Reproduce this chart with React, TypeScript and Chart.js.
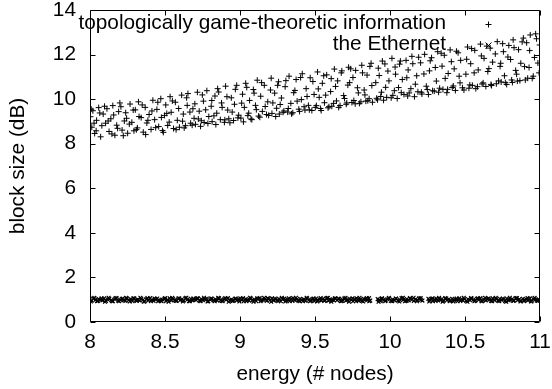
import React, { useEffect, useRef } from 'react';
import { Chart, registerables } from 'chart.js';

Chart.register(...registerables);

const seriesNames = ['topologically game-theoretic information', 'the Ethernet'];
const xTitle = 'energy (# nodes)';
const yTitle = 'block size (dB)';
const xTicks = [8, 8.5, 9, 9.5, 10, 10.5, 11];
const yTicks = [0, 2, 4, 6, 8, 10, 12, 14];

const upperX = [
  8.003, 8.012, 8.019, 8.031, 8.044, 8.058, 8.071, 8.088,
  8.104, 8.113, 8.127, 8.139, 8.152, 8.166, 8.178, 8.191,
  8.206, 8.214, 8.229, 8.238, 8.251, 8.267, 8.279, 8.293,
  8.302, 8.316, 8.323, 8.341, 8.355, 8.368, 8.379, 8.394,
  8.407, 8.419, 8.431, 8.446, 8.458, 8.472, 8.483, 8.497,
  8.505, 8.518, 8.534, 8.541, 8.557, 8.569, 8.582, 8.596,
  8.611, 8.622, 8.637, 8.648, 8.653, 8.671, 8.686, 8.694,
  8.703, 8.716, 8.728, 8.742, 8.756, 8.761, 8.779, 8.792,
  8.808, 8.814, 8.833, 8.845, 8.851, 8.869, 8.877, 8.896,
  8.904, 8.918, 8.925, 8.942, 8.957, 8.963, 8.978, 8.991,
  9.006, 9.017, 9.029, 9.038, 9.052, 9.064, 9.073, 9.089,
  9.103, 9.115, 9.124, 9.138, 9.149, 9.162, 9.177, 9.185,
  9.208, 9.213, 9.231, 9.244, 9.257, 9.262, 9.276, 9.293,
  9.301, 9.318, 9.327, 9.339, 9.352, 9.366, 9.374, 9.392,
  9.409, 9.415, 9.433, 9.441, 9.456, 9.468, 9.479, 9.494,
  9.502, 9.517, 9.528, 9.536, 9.549, 9.563, 9.578, 9.587,
  9.604, 9.612, 9.629, 9.643, 9.651, 9.667, 9.675, 9.691,
  9.708, 9.719, 9.724, 9.746, 9.753, 9.768, 9.771, 9.789,
  9.806, 9.812, 9.828, 9.839, 9.847, 9.861, 9.874, 9.883,
  9.905, 9.917, 9.922, 9.938, 9.949, 9.957, 9.971, 9.986,
  10.008, 10.013, 10.029, 10.037, 10.048, 10.064, 10.075, 10.082,
  10.107, 10.118, 10.121, 10.139, 10.146, 10.163, 10.178, 10.186,
  10.204, 10.213, 10.231, 10.242, 10.256, 10.263, 10.277, 10.295,
  10.309, 10.318, 10.324, 10.347, 10.353, 10.362, 10.379, 10.388,
  10.401, 10.415, 10.428, 10.436, 10.454, 10.467, 10.471, 10.493,
  10.506, 10.517, 10.526, 10.538, 10.549, 10.565, 10.572, 10.588,
  10.603, 10.614, 10.627, 10.639, 10.652, 10.668, 10.677, 10.684,
  10.709, 10.715, 10.734, 10.741, 10.756, 10.763, 10.778, 10.792,
  10.804, 10.816, 10.821, 10.838, 10.849, 10.857, 10.872, 10.889,
  10.902, 10.911, 10.927, 10.935, 10.948, 10.963, 10.977, 10.994,
];

const upperY = [
  9.21, 8.74, 9.48, 8.46, 9.05, 9.62, 8.31, 9.33,
  8.92, 9.57, 8.55, 9.12, 9.71, 8.38, 8.83, 9.44,
  9.66, 8.61, 9.02, 9.39, 8.47, 9.78, 8.96, 8.58,
  9.52, 8.71, 9.88, 9.17, 8.52, 9.63, 8.93, 9.31,
  8.64, 9.95, 9.08, 9.54, 8.77, 10.02, 8.59, 9.27,
  9.74, 8.82, 10.11, 9.41, 8.68, 9.86, 9.05, 8.74,
  10.18, 9.33, 8.81, 9.72, 10.25, 8.92, 9.57, 9.14,
  8.87, 10.31, 9.46, 9.03, 9.91, 8.95, 10.38, 9.22,
  9.68, 8.99, 10.14, 9.37, 10.47, 9.08, 9.83, 8.96,
  10.58, 9.51, 9.12, 10.06, 9.04, 9.77, 10.62, 9.28,
  9.15, 10.22, 9.63, 10.71, 9.26, 9.94, 9.11, 10.43,
  9.72, 10.85, 9.24, 10.13, 9.45, 10.62, 9.31, 9.88,
  10.94, 9.36, 10.27, 9.59, 10.78, 9.33, 10.05, 9.47,
  10.56, 9.42, 11.03, 9.81, 9.39, 10.39, 10.88, 9.55,
  9.98, 11.14, 9.51, 10.47, 9.72, 10.96, 9.49, 10.21,
  9.63, 11.22, 10.08, 9.58, 10.71, 9.84, 11.09, 9.61,
  10.34, 9.68, 11.35, 9.92, 10.82, 9.71, 11.18, 10.16,
  9.77, 10.63, 11.43, 9.85, 10.97, 9.79, 11.29, 10.28,
  9.88, 11.52, 10.41, 9.91, 11.08, 10.02, 11.61, 9.86,
  10.74, 9.97, 11.39, 10.12, 11.71, 9.95, 10.53, 11.26,
  10.06, 11.83, 10.38, 11.12, 10.03, 11.57, 10.29, 10.88,
  11.74, 10.14, 11.31, 10.47, 11.92, 10.11, 11.05, 10.33,
  11.63, 10.23, 12.01, 10.58, 10.21, 11.27, 11.86, 10.36,
  10.81, 12.13, 10.31, 11.48, 10.44, 11.97, 10.29, 11.15,
  12.21, 10.52, 11.36, 10.39, 12.08, 10.73, 11.74, 10.41,
  11.12, 12.34, 10.49, 11.59, 10.62, 12.19, 10.47, 11.31,
  12.47, 10.68, 11.83, 10.57, 11.24, 12.29, 10.61, 11.66,
  10.69, 12.58, 11.47, 10.77, 12.13, 11.05, 10.66, 12.41,
  11.78, 10.75, 12.66, 11.29, 10.81, 12.22, 11.61, 12.74,
  10.86, 12.53, 11.42, 12.88, 10.93, 11.87, 12.71, 11.18,
];

const upperXb = [
  8.008, 8.027, 8.041, 8.065, 8.079, 8.097, 8.121, 8.146, 8.158, 8.184,
  8.199, 8.222, 8.244, 8.262, 8.288, 8.309, 8.327, 8.348, 8.371, 8.386,
  8.413, 8.438, 8.452, 8.476, 8.489, 8.512, 8.528, 8.549, 8.574, 8.591,
  8.617, 8.628, 8.644, 8.666, 8.681, 8.699, 8.722, 8.737, 8.749, 8.771,
  8.786, 8.812, 8.826, 8.839, 8.858, 8.881, 8.899, 8.913, 8.933, 8.948,
  8.969, 8.986, 9.011, 9.023, 9.045, 9.058, 9.079, 9.094, 9.109, 9.132,
  9.144, 9.168, 9.191, 9.203, 9.219, 9.238, 9.251, 9.268, 9.287, 9.306,
  9.322, 9.344, 9.358, 9.381, 9.397, 9.404, 9.427, 9.447, 9.462, 9.486,
  9.509, 9.522, 9.541, 9.558, 9.571, 9.593, 9.608, 9.624, 9.637, 9.658,
  9.679, 9.697, 9.712, 9.731, 9.738, 9.759, 9.783, 9.796, 9.817, 9.833,
  9.852, 9.866, 9.879, 9.911, 9.928, 9.943, 9.966, 9.978, 9.993, 10.019,
  10.034, 10.057, 10.069, 10.093, 10.112, 10.128, 10.152, 10.169, 10.191, 10.209,
  10.226, 10.249, 10.268, 10.284, 10.302, 10.331, 10.341, 10.368, 10.384, 10.409,
  10.422, 10.443, 10.461, 10.483, 10.511, 10.532, 10.544, 10.561, 10.583, 10.609,
  10.621, 10.645, 10.659, 10.673, 10.702, 10.724, 10.738, 10.751, 10.769, 10.786,
  10.811, 10.827, 10.844, 10.866, 10.881, 10.897, 10.918, 10.931, 10.955, 10.971,
  10.986, 10.998,
];

const upperYb = [
  9.55, 8.92, 8.58, 9.38, 8.81, 9.68, 9.02, 8.44, 9.29, 8.69,
  9.83, 8.36, 9.14, 8.88, 9.51, 8.63, 9.22, 9.74, 8.41, 9.05,
  9.47, 8.72, 9.86, 9.18, 8.51, 9.36, 8.97, 9.92, 8.63, 9.58,
  9.01, 8.71, 10.06, 9.42, 8.83, 9.79, 9.11, 8.78, 10.19, 9.52,
  8.91, 9.94, 9.25, 8.86, 10.32, 9.63, 9.07, 10.11, 8.94, 9.42,
  10.44, 9.16, 9.82, 8.98, 10.53, 9.37, 9.08, 10.27, 9.53, 9.19,
  10.74, 9.67, 9.27, 10.41, 9.83, 9.22, 10.62, 9.76, 9.41, 10.83,
  9.58, 9.34, 10.29, 9.91, 9.45, 10.97, 9.66, 10.12, 9.52, 10.79,
  9.71, 10.46, 9.49, 11.05, 10.18, 9.66, 10.92, 9.81, 10.57, 9.63,
  11.27, 10.03, 9.83, 10.74, 11.36, 9.94, 10.51, 9.81, 11.18, 10.19,
  9.93, 11.47, 10.61, 10.04, 11.06, 10.31, 11.58, 10.08, 10.82, 10.17,
  11.44, 10.52, 11.71, 10.21, 10.96, 10.28, 11.59, 10.67, 11.88, 10.31,
  11.13, 10.43, 11.72, 10.38, 11.42, 10.49, 12.06, 10.93, 10.44, 11.68,
  10.59, 12.15, 11.03, 10.51, 11.79, 10.64, 12.27, 11.18, 10.56, 11.94,
  10.73, 12.38, 11.37, 10.66, 12.03, 10.82, 11.61, 12.49, 10.74, 11.89,
  10.86, 12.31, 11.12, 10.83, 12.57, 11.46, 10.94, 12.18, 11.03, 12.93,
  11.62, 12.43,
];

const lowerX = [
  8.0, 8.011, 8.023, 8.036, 8.047, 8.058, 8.071, 8.083, 8.094, 8.106,
  8.118, 8.129, 8.142, 8.153, 8.165, 8.177, 8.188, 8.201, 8.212, 8.224,
  8.236, 8.247, 8.259, 8.272, 8.283, 8.295, 8.306, 8.318, 8.331, 8.342,
  8.354, 8.365, 8.377, 8.389, 8.401, 8.412, 8.424, 8.437, 8.448, 8.459,
  8.471, 8.483, 8.496, 8.507, 8.518, 8.531, 8.542, 8.554, 8.566, 8.577,
  8.589, 8.602, 8.613, 8.624, 8.637, 8.648, 8.66, 8.672, 8.683, 8.695,
  8.707, 8.719, 8.731, 8.742, 8.754, 8.766, 8.778, 8.789, 8.802, 8.813,
  8.825, 8.836, 8.849, 8.861, 8.872, 8.884, 8.896, 8.907, 8.919, 8.932,
  8.943, 8.955, 8.967, 8.978, 8.99, 9.002, 9.013, 9.025, 9.038, 9.049,
  9.061, 9.072, 9.084, 9.096, 9.108, 9.119, 9.131, 9.143, 9.155, 9.166,
  9.178, 9.19, 9.201, 9.214, 9.225, 9.237, 9.249, 9.26, 9.272, 9.284,
  9.296, 9.307, 9.319, 9.331, 9.343, 9.354, 9.366, 9.378, 9.39, 9.401,
  9.413, 9.425, 9.437, 9.448, 9.46, 9.472, 9.484, 9.495, 9.507, 9.519,
  9.531, 9.542, 9.554, 9.566, 9.578, 9.589, 9.601, 9.613, 9.625, 9.636,
  9.648, 9.66, 9.672, 9.683, 9.695, 9.707, 9.719, 9.73, 9.742, 9.754,
  9.766, 9.777, 9.789, 9.801, 9.813, 9.824, 9.836, 9.848, 9.86, 9.868,
  9.918, 9.927, 9.938, 9.948, 9.959, 9.971, 9.983, 9.994, 10.006, 10.018,
  10.03, 10.041, 10.053, 10.065, 10.077, 10.088, 10.1, 10.112, 10.124, 10.135,
  10.147, 10.159, 10.171, 10.182, 10.194, 10.206, 10.216, 10.256, 10.265, 10.276,
  10.286, 10.298, 10.309, 10.321, 10.333, 10.345, 10.356, 10.368, 10.38, 10.392,
  10.403, 10.415, 10.427, 10.439, 10.45, 10.462, 10.474, 10.486, 10.497, 10.509,
  10.521, 10.533, 10.544, 10.556, 10.568, 10.58, 10.591, 10.603, 10.615, 10.627,
  10.638, 10.65, 10.662, 10.674, 10.685, 10.697, 10.709, 10.721, 10.732, 10.744,
  10.756, 10.768, 10.779, 10.791, 10.803, 10.815, 10.826, 10.838, 10.85, 10.862,
  10.873, 10.885, 10.897, 10.909, 10.92, 10.932, 10.944, 10.956, 10.967, 10.979, 10.991,
];

const lowerY = [
  1.02, 0.96, 1.05, 0.99, 0.94, 1.03, 1.0, 0.97, 1.06, 0.95,
  1.01, 1.04, 0.98, 0.93, 1.02, 1.07, 0.96, 1.0, 1.03, 0.97,
  0.95, 1.05, 0.99, 1.02, 0.94, 1.06, 0.98, 1.01, 0.96, 1.04,
  1.0, 0.93, 1.03, 0.97, 1.07, 0.99, 0.95, 1.02, 1.05, 0.98,
  0.96, 1.01, 1.04, 0.94, 1.0, 1.06, 0.97, 1.03, 0.99, 0.95,
  1.05, 0.98, 1.02, 0.96, 1.07, 1.0, 0.94, 1.04, 0.97, 1.01,
  0.99, 1.06, 0.95, 1.03, 0.98, 1.01, 1.05, 0.93, 1.0, 1.04,
  0.97, 1.02, 0.96, 1.06, 0.99, 0.94, 1.03, 1.0, 1.07, 0.98,
  1.01, 0.95, 1.04, 0.97, 1.02, 1.06, 0.99, 0.93, 1.03, 1.0,
  0.96, 1.05, 0.98, 1.01, 0.94, 1.04, 1.07, 0.97, 1.0, 1.02,
  0.95, 1.03, 0.99, 1.06, 0.96, 1.01, 0.98, 1.04, 0.93, 1.02,
  1.05, 0.97, 1.0, 0.94, 1.03, 1.07, 0.98, 1.01, 0.96, 1.04,
  0.99, 1.02, 0.95, 1.06, 1.0, 0.97, 1.03, 0.94, 1.05, 0.98,
  1.01, 0.96, 1.04, 0.99, 1.07, 0.95, 1.02, 1.0, 0.97, 1.06,
  0.98, 1.03, 0.94, 1.01, 1.05, 0.96, 1.0, 1.04, 0.99, 0.93,
  1.02, 1.06, 0.97, 1.0, 0.95, 1.04, 1.01, 0.98, 1.07, 0.96,
  1.03, 0.99, 0.94, 1.05, 1.0, 0.97, 1.02, 1.06, 0.95, 1.01,
  0.98, 1.04, 0.96, 1.0, 1.07, 0.99, 0.93, 1.03, 0.97, 1.05,
  1.01, 0.95, 1.02, 0.98, 1.06, 1.0, 0.96, 1.04, 0.99, 1.03,
  0.94, 1.01, 1.05, 0.97, 1.0, 1.03, 0.95, 1.07, 0.98, 1.02,
  0.96, 1.04, 0.99, 1.01, 0.93, 1.06, 1.0, 0.97, 1.03, 0.95,
  1.02, 0.98, 1.05, 1.0, 0.96, 1.04, 0.99, 1.07, 0.94, 1.01,
  0.97, 1.03, 1.0, 0.95, 1.06, 0.98, 1.02, 0.96, 1.04, 0.99,
  1.01, 0.94, 1.05, 0.97, 1.0, 1.03, 0.96, 1.07, 0.98, 1.02,
  0.95, 1.04, 0.99, 1.01, 0.97, 1.06, 0.93, 1.03, 1.0, 0.96, 1.02,
];

const lowerXb = [
  8.005, 8.029, 8.052, 8.077, 8.1, 8.124, 8.147, 8.171, 8.194, 8.218,
  8.241, 8.265, 8.289, 8.312, 8.336, 8.359, 8.383, 8.406, 8.43, 8.454,
  8.477, 8.501, 8.524, 8.548, 8.572, 8.595, 8.619, 8.642, 8.666, 8.689,
  8.713, 8.737, 8.76, 8.784, 8.807, 8.831, 8.855, 8.878, 8.902, 8.925,
  8.949, 8.972, 8.996, 9.02, 9.043, 9.067, 9.09, 9.114, 9.137, 9.161,
  9.185, 9.208, 9.232, 9.255, 9.279, 9.302, 9.326, 9.35, 9.373, 9.397,
  9.42, 9.444, 9.467, 9.491, 9.515, 9.538, 9.562, 9.585, 9.609, 9.632,
  9.656, 9.68, 9.703, 9.727, 9.75, 9.774, 9.797, 9.821, 9.845, 9.862,
  9.924, 9.945, 9.968, 9.992, 10.015, 10.039, 10.062, 10.086, 10.11, 10.133,
  10.157, 10.18, 10.204, 10.262, 10.283, 10.304, 10.327, 10.351, 10.375, 10.398,
  10.422, 10.445, 10.469, 10.492, 10.516, 10.54, 10.563, 10.587, 10.61, 10.634,
  10.657, 10.681, 10.705, 10.728, 10.752, 10.775, 10.799, 10.822, 10.846, 10.87,
  10.893, 10.917, 10.94, 10.964, 10.987,
];

const lowerYb = [
  0.92, 1.08, 0.95, 1.06, 0.91, 1.09, 0.94, 1.07, 0.93, 1.05,
  1.08, 0.92, 1.06, 0.95, 1.09, 0.91, 1.07, 0.94, 1.05, 0.93,
  0.93, 1.07, 0.91, 1.08, 0.95, 1.06, 0.92, 1.09, 0.94, 1.05,
  1.06, 0.94, 1.09, 0.92, 1.05, 0.93, 1.08, 0.95, 1.07, 0.91,
  0.95, 1.05, 0.92, 1.07, 0.94, 1.09, 0.91, 1.06, 0.93, 1.08,
  1.07, 0.91, 1.05, 0.94, 1.08, 0.92, 1.06, 0.95, 1.09, 0.93,
  0.94, 1.09, 0.93, 1.05, 0.92, 1.07, 0.95, 1.08, 0.91, 1.06,
  1.05, 0.95, 1.08, 0.91, 1.06, 0.94, 1.09, 0.92, 1.07, 0.93,
  0.91, 1.06, 0.94, 1.08, 0.93, 1.05, 0.92, 1.09, 0.95, 1.07,
  1.09, 0.93, 1.07, 0.92, 1.06, 0.95, 1.08, 0.91, 1.05, 0.94,
  0.92, 1.05, 0.95, 1.09, 0.91, 1.07, 0.93, 1.06, 0.94, 1.08,
  1.06, 0.93, 1.08, 0.94, 1.05, 0.91, 1.09, 0.95, 1.07, 0.92,
  0.94, 1.07, 0.92, 1.08, 0.95,
];

const FONT_FAMILY = '"Liberation Sans", Arial, Helvetica, sans-serif';
const FONT_SIZE = 20.8;

function drawCross(ctx: CanvasRenderingContext2D, x: number, y: number, r: number, rot: boolean) {
  ctx.beginPath();
  if (rot) {
    ctx.moveTo(x - r, y - r); ctx.lineTo(x + r, y + r);
    ctx.moveTo(x - r, y + r); ctx.lineTo(x + r, y - r);
  } else {
    ctx.moveTo(x - r, y); ctx.lineTo(x + r, y);
    ctx.moveTo(x, y - r); ctx.lineTo(x, y + r);
  }
  ctx.stroke();
}

const framePlugin = {
  id: 'gnuFrame',
  afterDatasetsDraw(chart: any) {
    const { ctx, chartArea: a, scales } = chart;
    const L = Math.round(a.left) + 0.5;
    const R = Math.round(a.right) - 0.5;
    const T = Math.round(a.top) + 0.5;
    const B = Math.round(a.bottom) - 0.5;
    const tl = 5;
    ctx.save();
    ctx.strokeStyle = '#000';
    ctx.lineWidth = 1;
    ctx.beginPath();
    ctx.rect(L, T, R - L, B - T);
    ctx.stroke();
    ctx.beginPath();
    for (const v of xTicks) {
      const px = Math.round(scales.x.getPixelForValue(v)) + 0.5;
      ctx.moveTo(px, B); ctx.lineTo(px, B - tl);
      ctx.moveTo(px, T); ctx.lineTo(px, T + tl);
    }
    for (const v of yTicks) {
      const py = Math.round(scales.y.getPixelForValue(v)) + 0.5;
      ctx.moveTo(L, py); ctx.lineTo(L + tl, py);
      ctx.moveTo(R, py); ctx.lineTo(R - tl, py);
    }
    ctx.stroke();

    // key
    ctx.fillStyle = '#000';
    ctx.font = `${FONT_SIZE}px ${FONT_FAMILY}`;
    ctx.textAlign = 'right';
    ctx.textBaseline = 'alphabetic';
    const keyRight = a.right - 94;
    ctx.fillText(seriesNames[0], keyRight, a.top + 19);
    ctx.fillText(seriesNames[1], keyRight, a.top + 40);
    const sx = Math.round(a.right - 52) + 0.5;
    drawCross(ctx, sx, a.top + 14.5, 3, false);
    drawCross(ctx, sx, a.top + 35.5, 3, true);
    ctx.restore();
  },
};

export default function App() {
  const ref = useRef<HTMLCanvasElement | null>(null);

  useEffect(() => {
    document.body.style.margin = '0';
    const canvas = ref.current;
    if (!canvas) return;
    const font = { family: FONT_FAMILY, size: FONT_SIZE };
    const upperPts = upperX.map((x, i) => ({ x, y: upperY[i] }))
      .concat(upperXb.map((x, i) => ({ x, y: upperYb[i] })));
    const lowerPts = lowerX.map((x, i) => ({ x, y: lowerY[i] }))
      .concat(lowerXb.map((x, i) => ({ x, y: lowerYb[i] })));
    const chart = new Chart(canvas, {
      type: 'scatter',
      data: {
        datasets: [
          {
            label: seriesNames[0],
            data: upperPts,
            pointStyle: 'cross',
            pointRadius: 3,
            borderWidth: 1,
            borderColor: '#000',
            backgroundColor: '#000',
          },
          {
            label: seriesNames[1],
            data: lowerPts,
            pointStyle: 'crossRot',
            pointRadius: 2.7,
            borderWidth: 1.2,
            borderColor: '#000',
            backgroundColor: '#000',
          },
        ],
      },
      options: {
        responsive: false,
        animation: false,
        events: [],
        layout: { padding: { top: 10, right: 12, bottom: 0, left: 0 } },
        plugins: {
          legend: { display: false },
          tooltip: { enabled: false },
        },
        scales: {
          x: {
            type: 'linear',
            min: 8,
            max: 11,
            grid: { display: false, drawTicks: false },
            border: { display: false },
            ticks: { color: '#000', font, padding: 8, maxRotation: 0, callback: (v: any) => String(v) },
            afterBuildTicks: (s: any) => { s.ticks = xTicks.map((v) => ({ value: v })); },
            afterFit: (s: any) => { s.height = 67; s.paddingLeft = 0; s.paddingRight = 0; },
            title: { display: true, text: xTitle, color: '#000', font, padding: { top: 0, bottom: 2 } },
          },
          y: {
            type: 'linear',
            min: 0,
            max: 14,
            grid: { display: false, drawTicks: false },
            border: { display: false },
            ticks: { color: '#000', font, padding: 14, callback: (v: any) => String(v) },
            afterBuildTicks: (s: any) => { s.ticks = yTicks.map((v) => ({ value: v })); },
            afterFit: (s: any) => { s.width = 90; s.paddingTop = 0; s.paddingBottom = 0; },
            title: { display: true, text: yTitle, color: '#000', font, padding: { top: 6, bottom: 0 } },
          },
        },
      },
      plugins: [framePlugin],
    });
    return () => chart.destroy();
  }, []);

  return (
    <div style={{ width: 552, height: 389, background: '#fff' }}>
      <canvas ref={ref} width={552} height={389} style={{ display: 'block' }} />
    </div>
  );
}
